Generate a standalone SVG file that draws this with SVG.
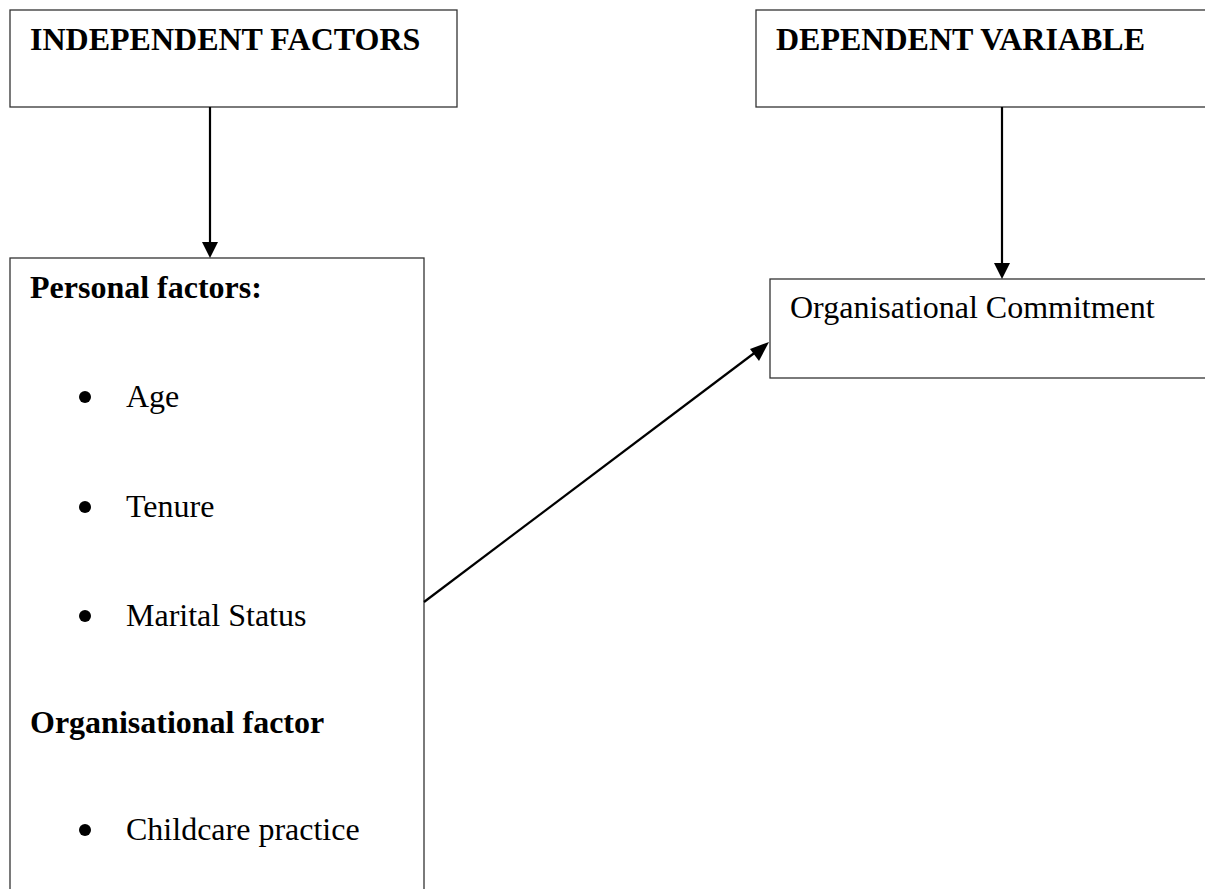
<svg xmlns="http://www.w3.org/2000/svg" width="1205" height="889" viewBox="0 0 1205 889">
<style>
.box{fill:#fff;stroke:#333;stroke-width:1.3}
.t{font-family:"Liberation Serif","Times New Roman",serif;font-size:32px;fill:#000}
.b{font-weight:bold}
.con{stroke:#000;stroke-width:2.2;fill:none}
.bul{fill:#000}
</style>
<defs>
<marker id="ah" markerWidth="8" markerHeight="8" refX="8" refY="4" orient="auto" markerUnits="userSpaceOnUse" viewBox="0 0 8 8">
<path d="M0,0 L8,4 L0,8 Z" fill="#000"/>
</marker>
</defs>
<rect width="1205" height="889" fill="#fff"/>
<g id="independent">
<rect class="box" x="10" y="10" width="447" height="97"/>
<text class="t b" x="30" y="50">INDEPENDENT FACTORS</text>
</g>
<g id="dependent">
<rect class="box" x="756" y="10" width="460" height="97"/>
<text class="t b" x="776" y="50">DEPENDENT VARIABLE</text>
</g>
<g id="factors">
<rect class="box" x="10" y="258" width="414" height="640"/>
<text class="t b" x="30" y="298">Personal factors:</text>
<circle class="bul" cx="85" cy="397" r="6"/>
<text class="t" x="126" y="407">Age</text>
<circle class="bul" cx="85" cy="507" r="6"/>
<text class="t" x="126" y="517">Tenure</text>
<circle class="bul" cx="85" cy="616" r="6"/>
<text class="t" x="126" y="626">Marital Status</text>
<text class="t b" x="30" y="733">Organisational factor</text>
<circle class="bul" cx="85" cy="830" r="6"/>
<text class="t" x="126" y="840">Childcare practice</text>
</g>
<g id="commitment">
<rect class="box" x="770" y="279" width="450" height="99"/>
<text class="t" x="790" y="318">Organisational Commitment</text>
</g>
<g id="connectors">
<line class="con" x1="210" y1="107" x2="210" y2="243"/>
<path d="M202,242 L218,242 L210,258 Z" fill="#000"/>
<line class="con" x1="1002" y1="107" x2="1002" y2="264"/>
<path d="M994,263 L1010,263 L1002,279 Z" fill="#000"/>
<line class="con" x1="424" y1="602" x2="757" y2="351"/>
<path d="M769,342 L759,361 L750,349 Z" fill="#000"/>
</g>
</svg>
